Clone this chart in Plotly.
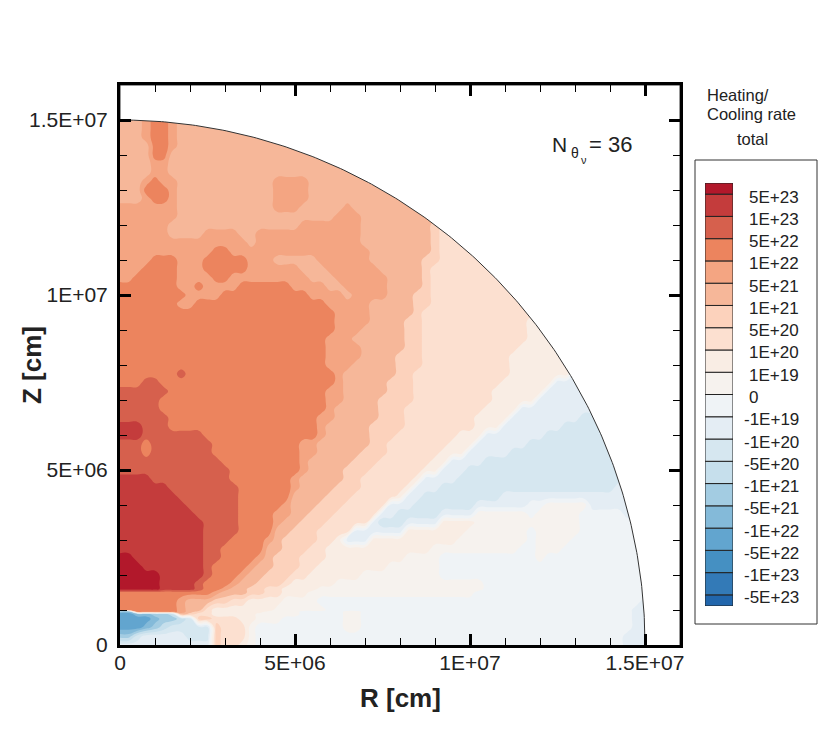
import numpy as np
import plotly.graph_objects as go

R_MAX = 1.5e7
AXIS_MAX = 1.6e7

# heights of the grid rows (E+06 cm)
z_rows = [0, .25, .5, .75, .88, .95, 1, 1.25, 1.5, 1.6, 1.75, 2, 2.25, 2.5, 2.75, 3, 3.25, 3.5, 3.75, 4, 4.25, 4.5,
          4.75, 5, 5.25, 5.5, 5.75, 6, 6.25, 6.5, 6.75, 7, 7.25, 7.5, 7.75, 8, 8.25, 8.5, 8.75, 9, 9.25, 9.5,
          9.75, 10, 10.25, 10.5, 10.75, 11, 11.25, 11.5, 11.75, 12, 12.25, 12.5, 12.75, 13, 13.25, 13.5,
          13.75, 14, 14.25, 14.5, 14.75, 15]
# one line per row above: band:R where the band stops (E+06 cm), bands are 0-9 then a-j, last band runs on
band_edges = [
    "b:2.5 6:2.9 7:3.4 8:3.6 9:3.9 a:14.4 b",
    "e:.25 c:.5 b:1.75 c:2.6 6:2.85 7:3.5 8:3.7 9:3.9 a:14.4 b",
    "g:.5 f:.9 e:1.1 d:1.3 c:2.6 6:2.75 7:3.5 8:3.7 9:3.9 a:6.3 9:6.9 a:14.5 b",
    "g:.9 f:1.2 e:1.5 d:1.9 c:2.2 6:2.55 7:3.4 8:3.9 9:4.7 a:6.3 9:6.9 a:14.6 b",
    "g:.3 f:.9 e:1.3 d:1.5 5:1.8 6:2.2 7:2.6 8:3.95 9:5 a:6.3 9:6.9 a:14.65 b",
    "f:.3 3:1.6 4:1.8 5:2.2 6:2.4 7:2.6 8:4 9:5.2 a:6.3 9:6.9 a:14.7 b",
    "3:1.6 4:1.8 5:2.3 6:2.4 7:2.6 8:4.4 9:5.8 a:14.7 b",
    "3:1.6 4:1.9 5:2.6 6:3.2 7:3.7 8:4.7 9:5.5 a:14.8 b",
    "3:2.66 4:2.95 5:3.5 6:4.1 7:4.5 8:5.4 9:10.2 a",
    "0:1 1:2.1 2:2.3 3:2.75 4:3 5:3.6 6:4.2 7:4.7 8:5.6 9:10.3 a",
    "0:1.2 1:2.2 2:2.4 3:3 4:3.25 5:3.8 6:4.5 7:4.9 8:6.2 9:10.3 a",
    "0:1 1:2.3 2:2.55 3:3.25 4:3.6 5:4.1 6:4.85 7:5.3 8:6.9 9:9.1 a",
    "0:.7 1:2.35 2:2.65 3:3.5 4:3.8 5:4.3 6:5.05 7:5.65 8:7.6 9:9.1 a",
    "0:.35 1:2.4 2:2.8 3:3.8 4:4 5:4.4 6:5.2 7:5.75 8:8.2 9:9.1 a:11.9 9:12.1 a",
    "1:2.43 2:2.9 3:4 4:4.2 5:4.5 6:5.3 7:5.9 8:8.8 9:11.3 a:11.9 9:12.7 a",
    "1:2.4 2:3.1 3:4.15 4:4.3 5:4.7 6:5.5 7:6.1 8:6.4 b:7.2 8:9.6 9:11.5 a:11.9 9:12.9 a",
    "1:2.35 2:3.25 3:4.3 4:4.4 5:4.95 6:5.7 7:6.6 8:6.7 b:8.2 8:9.8 9:11.5 a:11.9 9:13 a",
    "1:2.3 2:3.3 3:4.35 4:4.55 5:5.2 6:5.95 7:7 8:7.05 b:7.4 c:8.05 b:9.1 8:10 9:13 a",
    "1:2.1 2:3.35 3:4.45 4:4.75 5:5.4 6:6.1 7:7.3 8:7.4 b:7.85 c:9.05 b:10 9:11.5 a:11.9 9:13 a:14.3 b",
    "1:1.75 2:3.4 3:4.7 4:4.9 5:5.65 6:6.35 7:7.55 8:7.7 b:8.25 c:10 b:11.6 a:12 9:13.4 b",
    "1:1.55 2:3.35 3:4.8 4:4.95 5:5.9 6:6.6 7:7.9 8:8.05 b:8.7 c:10.9 b",
    "1:1.4 2:3.25 3:4.85 4:5 5:6.05 6:6.75 7:8.1 8:8.4 b:9.1 c:14.2 b",
    "1:.9 2:3.15 3:4.95 4:5.15 5:6.25 6:6.95 7:8.35 8:8.7 b:9.5 c",
    "2:3 3:5.05 4:5.25 5:6.4 6:7.1 7:8.66 8:9.05 b:9.95 c",
    "2:2.9 3:5.1 4:5.35 5:6.6 6:7.3 7:8.95 8:9.4 b:10.45 c",
    "2:.5 3:.95 2:2.65 3:5.2 4:5.5 5:6.8 6:7.5 7:9.15 8:9.75 b:11 c",
    "2:.5 3:.95 2:2.55 3:5.2 4:5.6 5:7 6:7.65 7:9.4 8:10.05 b:11.55 c",
    "1:.55 2:2.45 3:5.7 4:5.75 5:7.1 6:7.85 7:9.7 8:10.4 b:12.1 c",
    "1:.55 2:1.38 3:5.7 4:5.9 5:7.2 6:8 7:10 8:10.75 b:12.65 c",
    "2:1.35 3:5.7 4:6.05 5:7.3 6:8.1 7:10.2 8:11.1 b:13.2 c",
    "2:1.2 3:5.8 4:6.2 5:7.4 6:8.2 7:10.4 8:11.4 b",
    "2:1.1 3:5.9 4:6.3 5:7.45 6:8.25 7:10.5 8:11.75 b",
    "2:1.3 3:5.95 4:6.3 5:7.55 6:8.35 7:10.7 8:12.1 b",
    "3:.5 2:1.1 3:6 4:6.3 5:7.7 6:8.4 7:10.9 8:12.4 b",
    "3:1.5 2:1.8 3:6.1 4:6.45 5:7.8 6:8.45 7:11 8:12.75 b",
    "3:5.95 4:6.6 5:7.85 6:8.5 7:11.1 8",
    "3:5.8 4:6.76 5:7.9 6:8.55 7:11.2 8",
    "3:5.9 4:6.75 5:8 6:8.6 7:11.3 8",
    "3:5.95 4:6.7 5:8.1 6:8.6 7:11.5 8",
    "3:6.05 4:6.85 5:8.15 6:8.65 7:11.6 8",
    "3:6.15 4:7 5:8.2 6:8.7 7:11.7 8",
    "3:6.1 4:7.05 5:8.3 6:8.7 7",
    "3:1.7 4:2.2 3:5.8 4:7.15 5:8.4 6:8.75 7",
    "3:1.8 4:2.85 3:5.4 4:6.3 5:6.5 4:7.6 5:8.4 6:8.8 7",
    "3:1.7 4:2.1 3:2.3 4:3.4 3:4.8 4:5.9 5:6.25 4:7.6 5:8.5 6:8.85 7",
    "4:.3 3:1.65 4:2.6 3:3.2 4:5.4 5:6 4:7.6 5:8.55 6:8.9 7",
    "4:.55 3:1.6 4:2.4 3:3.55 4:5 5:5.75 4:7.4 5:8.65 6:8.95 7",
    "4:.8 3:1.55 4:2.25 3:3.5 4:4.3 5:5.5 4:7.2 5:8.7 6:9 7",
    "4:2.6 3:3.2 4:7 5:8.75 6:9.05 7",
    "4:3.6 5:3.75 4:6.9 5:8.8 6:9.05 7",
    "4:1.3 5:2.25 4:3.4 5:3.9 4:6.85 5:8.85 6:9.1 7",
    "4:1.3 5:5.2 4:6.8 5:8.9 6:9.1 7",
    "4:1.6 5:6.1 4:6.75 5:9 7",
    "4:1.5 5:4.4 4:5.2 5:6.45 4:6.65 5",
    "5:.55 4:.8 3:1.25 4:1.6 5:4.4 4:5.25 5",
    "5:.5 4:.6 3:1.45 4:1.57 5:4.3 4:5.3 5",
    "5:.55 4:.85 3:1.2 4:1.5 5:4.4 4:5.25 5",
    "5:.75 4:1.45 5",
    "5:.85 4:1.4 5",
    "5:.8 4:.95 3:1.35 4:1.45 5",
    "5:.75 4:.9 3:1.4 4:1.55 5",
    "5:.7 4:.9 3:1.4 4:1.6 5",
    "5:.68 4:.9 3:1.4 4:1.65 5",
    "5:.65 4:.9 3:1.4 4:1.67 5",
]
r_cols = [i * 0.25 for i in range(61)]

band_colors = ["#B2182B", "#C43C3C", "#D6604D", "#EC845E", "#F4A582", "#F6B799", "#FCD2BC",
               "#FCE0D0", "#F9EDE4", "#F6F2EE", "#EFF3F6", "#E4EDF4", "#D6E7F0", "#C6DFEC",
               "#A3CCE2", "#84BAD9", "#62A5CF", "#4590C2", "#337AB7", "#2166AC"]
level_labels = ["5E+23", "1E+23", "5E+22", "1E+22", "5E+21", "1E+21", "5E+20", "1E+20", "1E+19", "0",
                "-1E+19", "-1E+20", "-5E+20", "-1E+21", "-5E+21", "-1E+22", "-5E+22", "-1E+23", "-5E+23"]
legend_heights = [.5] + [1] * 18 + [.5]

major_ticks = [0, 5e6, 1e7, 1.5e7]
major_labels = ["0", "5E+06", "1E+07", "1.5E+07"]

FONT = "Liberation Sans"
INK = "#222222"
# the page body keeps its 8px margin
W, H = 814, 720


def fx(px):
    return (px - 8) / W


def fy(py):
    return 1 - (py - 8) / H


def row_bands(text):
    tokens = [t.split(":") for t in text.split()]
    bands = np.array([int(t[0], 20) for t in tokens])
    edges = [float(t[1]) for t in tokens[:-1]]
    return bands[np.searchsorted(edges, r_cols, side="left")]


def note(px, py, text, size, anchor="left", **kw):
    return dict(x=fx(px), y=fy(py), xref="paper", yref="paper", xanchor=anchor, yanchor="middle",
                showarrow=False, text=text, font=dict(family=FONT, size=size, color=INK), **kw)


z = np.array([row_bands(row) for row in band_edges])
x = np.array(r_cols) * 1e6
y = np.array(z_rows) * 1e6

fig = go.Figure()

fig.add_trace(go.Contour(
    x=x, y=y, z=z,
    zmin=0, zmax=19,
    colorscale=[[i / 19, c] for i, c in enumerate(band_colors)],
    autocontour=False,
    contours=dict(start=0.5, end=18.5, size=1, coloring="fill", showlines=False),
    line=dict(width=0, smoothing=1.3),
    showscale=False,
    hoverinfo="skip",
))

# white outside the outer radius, its edge is the thin arc
theta = np.linspace(0, np.pi / 2, 240)
mask_x = np.r_[R_MAX * np.cos(theta), 0, AXIS_MAX, AXIS_MAX]
mask_y = np.r_[R_MAX * np.sin(theta), AXIS_MAX, AXIS_MAX, 0]
fig.add_trace(go.Scatter(
    x=mask_x, y=mask_y, mode="lines", fill="toself", fillcolor="white",
    line=dict(color="#333333", width=1), hoverinfo="skip", showlegend=False,
))

# colour key
heights = np.array(legend_heights[::-1])
fig.add_trace(go.Bar(
    x=[0.5] * len(heights), y=heights,
    base=np.r_[0, np.cumsum(heights)[:-1]],
    width=1,
    marker=dict(color=band_colors[::-1], line=dict(color=INK, width=1)),
    xaxis="x2", yaxis="y2", hoverinfo="skip", showlegend=False,
))

axis_style = dict(
    range=[0, AXIS_MAX], showgrid=False, zeroline=False, automargin=False,
    showline=True, linecolor="black", linewidth=3, mirror="allticks",
    ticks="inside", ticklen=11, tickwidth=3, tickcolor="black",
    tickmode="array", tickvals=major_ticks, ticktext=major_labels,
    tickfont=dict(family=FONT, size=21, color=INK),
    minor=dict(ticks="inside", ticklen=7, tickwidth=1, tickcolor="black", dtick=1e6, showgrid=False),
)

fig.update_layout(
    width=W, height=H,
    margin=dict(l=0, r=0, t=0, b=0),
    paper_bgcolor="white", plot_bgcolor="white",
    showlegend=False,
    xaxis=dict(domain=[fx(120), fx(680)], anchor="y", ticklabelstandoff=-3, **axis_style),
    yaxis=dict(domain=[fy(645), fy(85)], anchor="x", ticklabelstandoff=5, **axis_style),
    xaxis2=dict(domain=[fx(705), fx(733)], anchor="y2", range=[0, 1], visible=False),
    yaxis2=dict(domain=[fy(606), fy(183)], anchor="x2", range=[0, 19], visible=False),
)

annotations = [
    note(400, 698, "<b>R [cm]</b>", 26, "center"),
    note(32, 365, "<b>Z [cm]</b>", 26, "center", textangle=-90),
    note(705, 95, "Heating/", 16.5),
    note(705, 114, "Cooling rate", 16.5),
    note(752, 139, "total", 16.5, "center"),
    note(550, 144, "N", 21),
    note(569, 153, "θ", 14),
    note(579, 160, "ν", 11),
    note(587, 144, "= 36", 22),
]
for i, label in enumerate(level_labels):
    annotations.append(dict(
        x=1, y=18.5 - i, xref="x2 domain", yref="y2", xanchor="left", yanchor="middle", showarrow=False,
        xshift=9 if label.startswith("-") else 14, yshift=-3,
        text=label, font=dict(family=FONT, size=17, color=INK),
    ))
fig.update_layout(annotations=annotations)

fig.add_shape(type="rect", xref="paper", yref="paper",
              x0=fx(695), x1=fx(817), y0=fy(624), y1=fy(160),
              line=dict(color="#333333", width=1))

fig.write_html("out.html")
